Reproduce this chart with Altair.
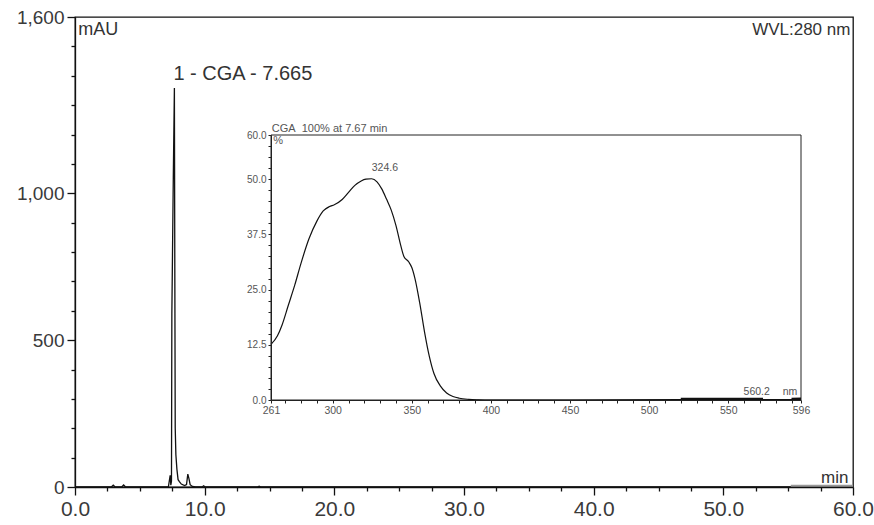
import altair as alt
import pandas as pd

# ---------------- main chromatogram (WVL 280 nm) ----------------
rt_min = [0.0, 2.80, 2.95, 3.10, 3.60, 3.75, 3.90, 7.20, 7.34, 7.39, 7.44, 7.47,
          7.58, 7.665, 7.70, 7.73, 7.78, 7.86, 7.95, 8.05, 8.20, 8.45, 8.60, 8.70,
          8.78, 8.88, 9.05, 9.30, 9.80, 9.92, 10.05, 14.05, 14.20, 14.35, 60.0]
signal_mau = [0, 0, 6, 0, 0, 7, 0, 0, 40, 6, 20, 590,
              1050, 1358, 700, 200, 110, 60, 25, 18, 10, 5, 8, 44,
              30, 8, 2, 0, 0, 4, 0, 0, 3, 0, 0]

tail_rt = [55.2, 60.0]
tail_mau = [4, 4]

main_x_ticks = [i * 2.5 for i in range(25)]
main_x_labels = [0, 10, 20, 30, 40, 50, 60]
main_y_ticks = [i * 100 for i in range(17)]
main_y_labels = [0, 500, 1000, 1600]

peak_label = ["1 - CGA - 7.665"]
peak_label_rt = [7.665]
peak_label_mau = [1405]

# ---------------- inset UV spectrum ----------------
wl_nm = [261, 265, 268, 272, 276, 280, 285, 290, 294, 298, 301, 306, 310, 314,
         318, 321, 324.6, 328, 331, 334, 337, 340, 343, 345, 348, 350, 352, 355,
         358, 361, 364, 368, 372, 376, 380, 386, 392, 400, 450, 519, 573, 589, 596]
absorb_pct = [12.6, 14.5, 17.0, 21.5, 26.0, 31.0, 36.5, 40.5, 42.8, 43.8, 44.2,
              45.4, 47.0, 48.6, 49.6, 50.0, 50.1, 49.4, 47.8, 45.5, 43.0, 39.5,
              35.0, 32.5, 31.3, 30.0, 27.5, 22.0, 15.5, 10.0, 6.0, 3.2, 1.6, 0.8,
              0.4, 0.15, 0.05, 0.0, 0.0, 0.1, 0.1, 0.1, 0.2]
thick_nm = [520, 572, 590, 596]
thick_pct = [0.25, 0.25, 0.25, 0.3]
thick_seg = ["a", "a", "b", "b"]

inset_domain_x = [261, 596]
inset_domain_y = [0, 60]
inset_x_ticks = [261] + list(range(270, 600, 10)) + [596]
inset_x_labels = [261, 300, 350, 400, 450, 500, 550, 596]
inset_y_ticks = [i * 2.5 for i in range(24)] + [60]
inset_y_labels = [0, 12.5, 25, 37.5, 50, 60]

inset_texts = ["CGA\u00a0\u00a0100% at 7.67 min", "%", "324.6", "560.2", "nm"]
inset_text_nm = [261.5, 262.5, 333, 568, 589]
inset_text_pct = [61.4, 58.6, 52.6, 1.7, 1.7]
inset_text_align = ["left", "left", "center", "center", "center"]

# ---------------- layout ----------------
W, H = 778, 470
FONT = "Liberation Sans"

# ---------------- main layer ----------------
main_df = pd.DataFrame({"rt": rt_min, "mau": signal_mau})
tail_df = pd.DataFrame({"rt": tail_rt, "mau": tail_mau})

x_scale = alt.Scale(domain=[0, 60], nice=False, zero=False)
y_scale = alt.Scale(domain=[0, 1600], nice=False, zero=False)

lbl_x = "[" + ",".join(str(v) for v in main_x_labels) + "]"
lbl_y = "[" + ",".join(str(v) for v in main_y_labels) + "]"

x_axis = alt.Axis(
    values=main_x_ticks,
    labelExpr=f"indexof({lbl_x}, datum.value) >= 0 ? format(datum.value, '.1f') : ''",
    tickSize={"condition": {"test": f"indexof({lbl_x}, datum.value) >= 0", "value": 8}, "value": 4},
    grid=False, labelFlush=False, labelOverlap=False,
    labelFont=FONT, labelFontSize=21, labelColor="#3a3a3a", labelPadding=3,
    domainColor="#111", tickColor="#111", domainWidth=1.3, tickWidth=1.3, title=None,
)
y_axis = alt.Axis(
    values=main_y_ticks,
    labelExpr=f"indexof({lbl_y}, datum.value) >= 0 ? format(datum.value, ',') : ''",
    tickSize={"condition": {"test": f"indexof({lbl_y}, datum.value) >= 0", "value": 8}, "value": 4},
    grid=False, labelFlush=False, labelOverlap=False,
    labelFont=FONT, labelFontSize=19, labelColor="#3a3a3a", labelPadding=3,
    domainColor="#111", tickColor="#111", domainWidth=1.3, tickWidth=1.3, title=None,
)

X = alt.X("rt:Q", scale=x_scale, axis=x_axis, title=None)
Y = alt.Y("mau:Q", scale=y_scale, axis=y_axis, title=None)

main_line = alt.Chart(main_df).mark_line(color="#111", strokeWidth=1.3, interpolate="linear").encode(x=X, y=Y)
tail_line = alt.Chart(tail_df).mark_line(color="#999", strokeWidth=2).encode(x=X, y=Y)

peak_df = pd.DataFrame({"rt": peak_label_rt, "mau": peak_label_mau, "t": peak_label})
peak_text = alt.Chart(peak_df).mark_text(
    align="left", baseline="middle", font=FONT, fontSize=20, color="#333", dx=-1
).encode(x=X, y=Y, text="t:N")

corner_df = pd.DataFrame({
    "rt": [0.25, 59.8, 59.65],
    "mau": [1556, 1556, 30],
    "t": ["mAU", "WVL:280 nm", "min"],
    "a": ["left", "right", "right"],
})
corner_left = alt.Chart(corner_df.iloc[[0]]).mark_text(
    align="left", baseline="middle", font=FONT, fontSize=18, color="#333"
).encode(x=X, y=Y, text="t:N")
corner_right = alt.Chart(corner_df.iloc[[1, 2]]).mark_text(
    align="right", baseline="middle", font=FONT, fontSize=17, color="#333"
).encode(x=X, y=Y, text="t:N")

main = alt.layer(main_line, tail_line, peak_text, corner_left, corner_right)

# ---------------- inset layer ----------------
spec_df = pd.DataFrame({"nm": wl_nm, "pct": absorb_pct})
thick_df = pd.DataFrame({"nm": thick_nm, "pct": thick_pct, "seg": thick_seg})
frame_df = pd.DataFrame({"nm": [inset_domain_x[0]], "nm1": [inset_domain_x[1]],
                         "pct": [inset_domain_y[0]], "pct1": [inset_domain_y[1]]})
itext_df = pd.DataFrame({"nm": inset_text_nm, "pct": inset_text_pct,
                         "t": inset_texts, "a": inset_text_align})

ix_scale = alt.Scale(domain=inset_domain_x, range=[196, 726], nice=False, zero=False)
iy_scale = alt.Scale(domain=inset_domain_y, range=[383, 118], nice=False, zero=False)

ilbl_x = "[" + ",".join(str(v) for v in inset_x_labels) + "]"
ilbl_y = "[" + ",".join(str(v) for v in inset_y_labels) + "]"

ix_axis = alt.Axis(
    orient="bottom", offset=-87, zindex=2,
    values=inset_x_ticks,
    labelExpr=f"indexof({ilbl_x}, datum.value) >= 0 ? format(datum.value, 'd') : ''",
    tickSize=3, grid=False, labelFlush=False, labelOverlap=False,
    labelFont=FONT, labelFontSize=10.5, labelColor="#555", labelPadding=2,
    domainColor="#222", tickColor="#222", domainWidth=1, tickWidth=1, title=None,
)
iy_axis = alt.Axis(
    orient="left", offset=-196, zindex=2,
    values=inset_y_ticks,
    labelExpr=f"indexof({ilbl_y}, datum.value) >= 0 ? format(datum.value, '.1f') : ''",
    tickSize=3, grid=False, labelFlush=False, labelOverlap=False,
    labelFont=FONT, labelFontSize=10, labelColor="#555", labelPadding=2,
    domainColor="#222", tickColor="#222", domainWidth=1, tickWidth=1, title=None,
)

IX = alt.X("nm:Q", scale=ix_scale, axis=ix_axis, title=None)
IY = alt.Y("pct:Q", scale=iy_scale, axis=iy_axis, title=None)

frame = alt.Chart(frame_df).mark_rect(fill="white", stroke="#222", strokeWidth=1).encode(
    x=IX, x2="nm1:Q", y=IY, y2="pct1:Q")
spec_line = alt.Chart(spec_df).mark_line(color="#111", strokeWidth=1.2, interpolate="monotone").encode(x=IX, y=IY)
thick_line = alt.Chart(thick_df).mark_line(color="#111", strokeWidth=2.5).encode(
    x=IX, y=IY, detail="seg:N")
itext_left = alt.Chart(itext_df[itext_df.a == "left"]).mark_text(
    align="left", baseline="middle", font=FONT, fontSize=11, color="#555"
).encode(x=IX, y=IY, text="t:N")
itext_center = alt.Chart(itext_df[itext_df.a == "center"]).mark_text(
    align="center", baseline="middle", font=FONT, fontSize=10.5, color="#555"
).encode(x=IX, y=IY, text="t:N")

inset = alt.layer(frame, spec_line, thick_line, itext_left, itext_center)

chart = alt.layer(main, inset).resolve_scale(x="independent", y="independent").properties(
    width=W, height=H,
    autosize=alt.AutoSizeParams(type="none"),
    padding={"left": 75, "top": 17, "right": 21, "bottom": 38},
    background="white",
).configure_view(stroke="#111", strokeWidth=1.3)

chart.save("out.html", embed_options={"renderer": "svg", "actions": False})
